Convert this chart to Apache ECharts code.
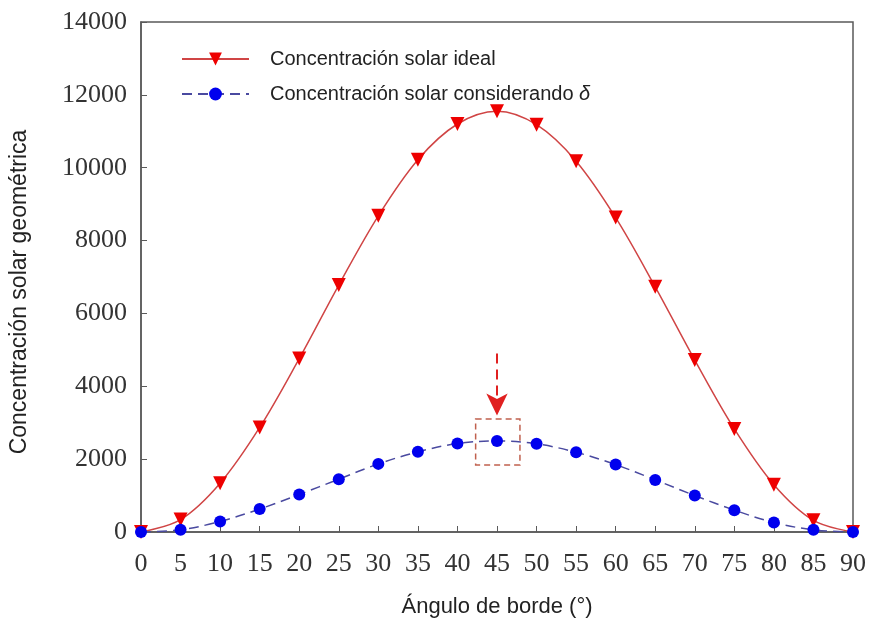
<!DOCTYPE html>
<html>
<head>
<meta charset="utf-8">
<script src="https://cdn.jsdelivr.net/npm/echarts@6/dist/echarts.min.js"></script>
<style>
html,body{margin:0;padding:0;background:#fff;}
#chart{width:871px;height:624px;}
</style>
</head>
<body>
<div id="chart"></div>
<script>
// Rim angle in degrees
const angles = [0, 5, 10, 15, 20, 25, 30, 35, 40, 45, 50, 55, 60, 65, 70, 75, 80, 85, 90];
// Ideal geometric solar concentration
const idealConc = [0, 340, 1340, 2870, 4760, 6780, 8680, 10220, 11200, 11550, 11180, 10180, 8630, 6730, 4720, 2830, 1300, 320, 0];
// Concentration accounting for the sun's angular spread δ
const deltaConc = [0, 60, 290, 630, 1030, 1450, 1870, 2200, 2430, 2500, 2420, 2190, 1850, 1430, 1000, 600, 260, 60, 0];
const yTicks = [0, 2000, 4000, 6000, 8000, 10000, 12000, 14000];

const seriesNames = ['Concentración solar ideal', 'Concentración solar considerando δ'];

const chart = echarts.init(document.getElementById('chart'));
const serif = '"Liberation Serif", "Times New Roman", serif';
const sans = '"Liberation Sans", Arial, sans-serif';

chart.setOption({
  animation: false,
  backgroundColor: '#fff',
  grid: {
    left: 141, right: 18, top: 22, bottom: 92,
    show: true, borderColor: '#5a5a5a', borderWidth: 1.5
  },
  legend: {
    left: 176, top: 44,
    orient: 'vertical',
    itemWidth: 67, itemHeight: 16, itemGap: 15,
    data: seriesNames,
    formatter: n => n.replace('δ', '{i|δ}'),
    textStyle: {
      fontFamily: sans, fontSize: 20, color: '#222', lineHeight: 20,
      padding: [0, 0, 0, 16],
      rich: { i: { fontFamily: sans, fontStyle: 'italic', fontSize: 20, color: '#222', lineHeight: 20 } }
    }
  },
  xAxis: {
    type: 'value', min: 0, max: 90, interval: 5,
    name: 'Ángulo de borde (°)', nameLocation: 'middle', nameGap: 64,
    nameTextStyle: { fontFamily: sans, fontSize: 22, color: '#222' },
    axisLine: { lineStyle: { color: '#5a5a5a', width: 1.5 } },
    axisTick: { inside: true, length: 6, lineStyle: { color: '#5a5a5a' } },
    axisLabel: { margin: 19, fontFamily: serif, fontSize: 26, color: '#333' },
    splitLine: { show: false }
  },
  yAxis: {
    type: 'value', min: yTicks[0], max: yTicks[yTicks.length - 1], interval: 2000,
    name: 'Concentración solar geométrica', nameLocation: 'middle', nameGap: 110,
    nameTextStyle: { fontFamily: sans, fontSize: 23, color: '#222', padding: [0, 30, 0, 0] },
    axisLine: { show: true, lineStyle: { color: '#5a5a5a', width: 1.5 } },
    axisTick: { show: true, inside: true, length: 6, lineStyle: { color: '#5a5a5a' } },
    axisLabel: { margin: 14, fontFamily: serif, fontSize: 26, color: '#333', formatter: v => String(v) },
    splitLine: { show: false }
  },
  series: [
    {
      name: seriesNames[0],
      type: 'line',
      smooth: 0.35,
      data: angles.map((a, i) => [a, idealConc[i]]),
      symbol: 'triangle', symbolRotate: 180, symbolSize: 14,
      itemStyle: { color: '#ee0000' },
      lineStyle: { color: '#d04545', width: 1.5 },
      z: 3
    },
    {
      name: seriesNames[1],
      type: 'line',
      smooth: 0.35,
      data: angles.map((a, i) => [a, deltaConc[i]]),
      symbol: 'circle', symbolSize: 12,
      itemStyle: { color: '#0000ee' },
      lineStyle: { color: '#4a4aa0', width: 1.5, type: [10, 6] },
      z: 4,
      markArea: {
        silent: true,
        itemStyle: { color: 'rgba(0,0,0,0)', borderColor: '#c0604e', borderWidth: 1.5, borderType: [6, 4] },
        data: [[{ xAxis: 42.3, yAxis: 3100 }, { xAxis: 47.9, yAxis: 1840 }]]
      },
      markLine: {
        silent: true,
        symbol: ['none', 'arrow'],
        symbolSize: [16, 22],
        label: { show: false },
        lineStyle: { color: '#e02020', width: 2, type: [10, 6] },
        data: [[{ coord: [45, 4900] }, { coord: [45, 3200] }]]
      }
    }
  ]
});
</script>
</body>
</html>
